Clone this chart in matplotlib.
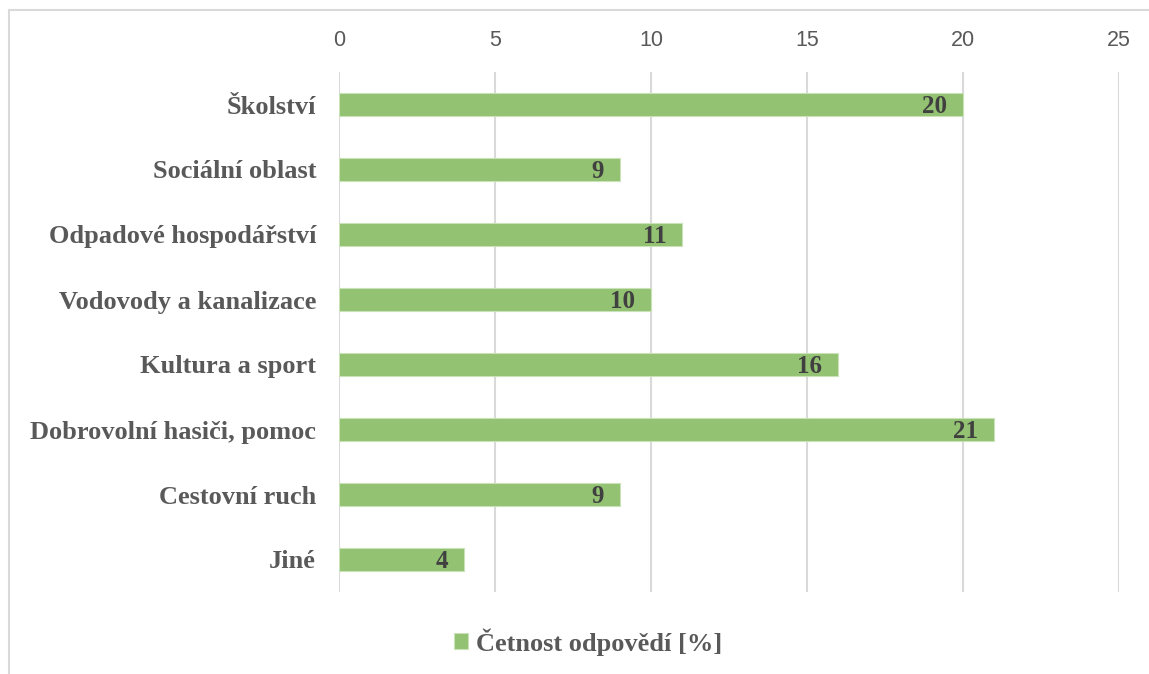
import matplotlib.pyplot as plt
from matplotlib.patches import Rectangle

categories = ["Školství", "Sociální oblast", "Odpadové hospodářství",
              "Vodovody a kanalizace", "Kultura a sport",
              "Dobrovolní hasiči, pomoc", "Cestovní ruch", "Jiné"]
values = [20, 9, 11, 10, 16, 21, 9, 4]
x_ticks = [0, 5, 10, 15, 20, 25]
legend_label = "Četnost odpovědí [%]"

bar_color = "#93C272"
grid_color = "#D9D9D9"
text_gray = "#595959"
value_color = "#404040"
serif = ["Liberation Serif", "DejaVu Serif"]
sans = ["Liberation Sans", "DejaVu Sans"]

fig = plt.figure(figsize=(11.49, 6.74), dpi=100)
W, H = 1149, 674
# axes: x from 339 to 1119 px, y from 72 to 592 px
ax = fig.add_axes([339 / W, 1 - 592 / H, (1119 - 339) / W, (592 - 72) / H])

# chart frame
fig.patches.append(Rectangle((9 / W, -0.01), 1.2, 1 - 10 / H + 0.01,
                             transform=fig.transFigure, fill=False,
                             edgecolor=grid_color, linewidth=1.5, zorder=0))

ypos = list(range(len(categories)))
bars = ax.barh(ypos, values, height=0.34, color=bar_color,
               edgecolor="#C9E2B8", linewidth=0.8, zorder=3,
               label=legend_label)
ax.set_ylim(len(categories) - 0.5, -0.5)
ax.set_xlim(0, 25)
ax.set_xticks(x_ticks)
ax.xaxis.tick_top()
ax.tick_params(axis="x", length=0, pad=14.8, labelsize=15.5, labelcolor=text_gray)
for lbl in ax.get_xticklabels():
    lbl.set_fontfamily(sans)
ax.set_yticks(ypos)
ax.set_yticklabels(categories, fontfamily=serif, fontweight="bold",
                   fontsize=19, color=text_gray)
ax.tick_params(axis="y", length=0, pad=16.5)

ax.grid(axis="x", color=grid_color, linewidth=1.5, zorder=0)
for s in ax.spines.values():
    s.set_visible(False)

for b, v in zip(bars, values):
    ax.annotate(str(v), (b.get_width(), b.get_y() + b.get_height() / 2),
                xytext=(-11.5, -6.2), textcoords="offset points",
                ha="right", va="baseline", fontfamily=serif,
                fontweight="bold", fontsize=18, color=value_color, zorder=4)

leg = fig.legend(loc="center", bbox_to_anchor=(588 / W, 1 - 642 / H),
                 frameon=False, handlelength=0.55, handleheight=0.55,
                 handletextpad=0.3,
                 prop={"family": serif, "weight": "bold", "size": 19})
for t in leg.get_texts():
    t.set_color(text_gray)

fig.savefig("out.png", dpi=100)
